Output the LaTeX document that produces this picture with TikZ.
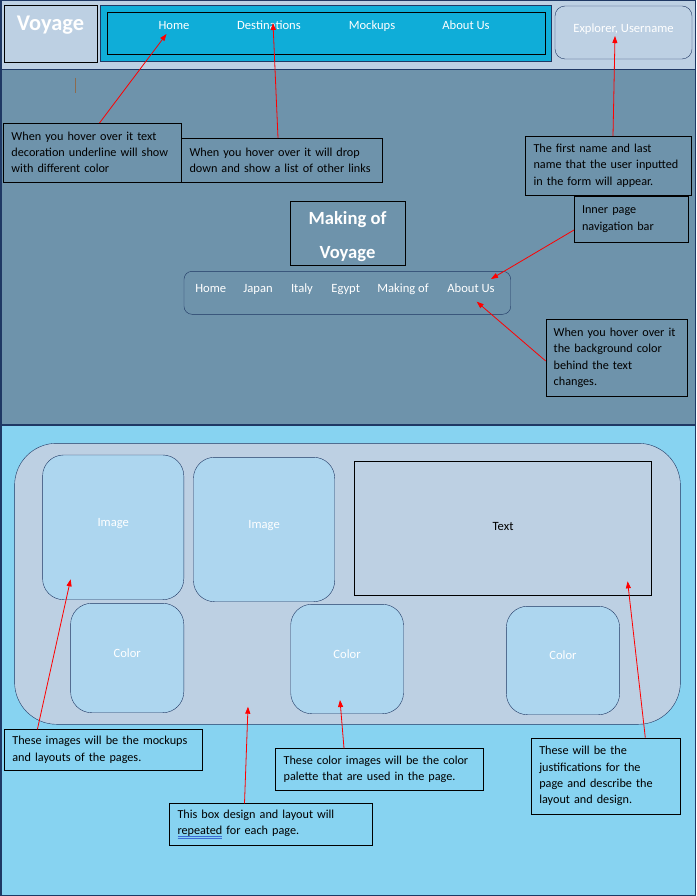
\documentclass[tikz,border=0pt]{standalone}
\usepackage{fontspec}
\setmainfont{Carlito}
\usetikzlibrary{arrows.meta}

\definecolor{headbg}{HTML}{BDD0E3}
\definecolor{midbg}{HTML}{6E93AB}
\definecolor{lowbg}{HTML}{87D3F1}
\definecolor{navcyan}{HTML}{0FADD8}
\definecolor{tilebg}{HTML}{ADD6EF}
\definecolor{navy}{HTML}{1F3864}
\definecolor{spell}{HTML}{3B6BD6}
\definecolor{caret}{HTML}{8C6B4F}

\newcommand{\spellmark}[1]{\leavevmode\setbox0\hbox{#1}\rlap{\color{spell}\rule[-1.5pt]{\wd0}{0.5pt}}\rlap{\color{spell}\rule[-3.5pt]{\wd0}{0.5pt}}#1}

\tikzset{
  every node/.style={outer sep=0pt},
  note/.style={draw=black, anchor=north west, inner xsep=8pt, align=left, font=\fontsize{12.2}{16.3}\selectfont},
  menu/.style={text=white, inner sep=0pt, text height=9pt, text depth=3pt, font=\fontsize{12.6}{15}\selectfont},
  tile/.style={draw=navy, fill=tilebg, anchor=north west, rounded corners=21pt, text=white, text depth=10pt, font=\fontsize{12.6}{15}\selectfont},
  hint/.style={red, line width=0.8pt, -{Triangle[length=7pt,width=5pt]}},
}

\begin{document}
\begin{tikzpicture}[x=1pt,y=-1pt]
        \useasboundingbox (0,0) rectangle (696,896);

        % bands of the page
        \fill[headbg] (0,0) rectangle (696,69);
        \fill[midbg] (0,69) rectangle (696,424);
        \fill[lowbg] (0,424) rectangle (696,896);
        \draw[navy, line width=1.2pt] (0,69.3) -- (696,69.3);
        \draw[navy, line width=2.2pt] (0,424.8) -- (696,424.8);
        \draw[navy, line width=1.5pt] (0.75,0.75) rectangle (695.25,895.25);

        % header
        \node[draw=black, fill=headbg, anchor=north west, minimum width=93, minimum height=57, text=white, text depth=20pt, font=\bfseries\fontsize{22.4}{26}\selectfont] (logo) at (4,5) {Voyage};
        \node[draw=navy, fill=navcyan, anchor=north west, minimum width=451, minimum height=56] (navBar) at (100,5) {};
        \node[draw=black, anchor=north west, minimum width=438, minimum height=42] (navFrame) at (107,12) {};
        \node[menu] (navHome) at (174,26.5) {Home};
        \node[menu] (navDest) at (269,26.5) {Destinations};
        \node[menu] (navMock) at (372,26.5) {Mockups};
        \node[menu] (navAbout) at (466,26.5) {About Us};
        \node[draw=navy, fill=headbg, anchor=north west, rounded corners=10pt, minimum width=137, minimum height=53, text=white, text depth=8pt, font=\fontsize{12.6}{15}\selectfont] (userBox) at (555,6) {Explorer, Username};

        \draw[caret, line width=0.6pt] (75.3,77.7) -- (75.3,92.7);

        % notes on the header
        \node[note, text width=162, minimum height=59] (hoverHome) at (3.5,123) {When you hover over it text\\decoration underline will show\\with different color};
        \node[note, text width=185, minimum height=44] (hoverDest) at (181.5,138) {When you hover over it will drop\\down and show a list of other links};
        \node[note, text width=150, minimum height=59] (nameNote) at (525.5,136) {The first name and last\\name that the user inputted\\in the form will appear.};

        \coordinate (tipHome) at (166.5,34);
        \coordinate (tipDest) at (273,23);
        \coordinate (tipUser) at (615,36);
        \draw[hint] ([xshift=96pt]hoverHome.north west) -- (tipHome);
        \draw[hint] ([xshift=96.5pt]hoverDest.north west) -- (tipDest);
        \draw[hint] ([xshift=87.5pt]nameNote.north west) -- (tipUser);

        % inner page title and bar
        \node[draw=black, anchor=north west, minimum width=114.4, minimum height=64, align=center, text=white, font=\bfseries\fontsize{18.6}{34}\selectfont] (titleBox) at (290.3,201.3) {\rule{0pt}{20pt}Making of\\Voyage};
        \node[draw=navy, anchor=north west, rounded corners=8pt, minimum width=326.7, minimum height=43] (innerBar) at (184,271.3) {};
        \node[menu] (barHome) at (210.7,289) {Home};
        \node[menu] (barJapan) at (258,289) {Japan};
        \node[menu] (barItaly) at (302,289) {Italy};
        \node[menu] (barEgypt) at (345.7,289) {Egypt};
        \node[menu] (barMaking) at (403,289) {Making of};
        \node[menu] (barAbout) at (471,289) {About Us};

        \node[note, text width=98, minimum height=46] (innerNote) at (574,196) {Inner page\\navigation bar};
        \node[note, text width=125.6, minimum height=77] (bgNote) at (545.7,319.3) {When you hover over it\\the background color\\behind the text\\changes.};

        \coordinate (tipBar) at (491,279);
        \coordinate (tipAbout) at (476.7,301.7);
        \draw[hint] ([yshift=-34pt]innerNote.north west) -- (tipBar);
        \draw[hint] ([yshift=-41.7pt]bgNote.north west) -- (tipAbout);

        % page layout box
        \node[draw=navy, fill=headbg, anchor=north west, rounded corners=42pt, minimum width=665.8, minimum height=281] (pageBox) at (14.6,443.3) {};
        \node[tile, minimum width=141.2, minimum height=144.7] (imageA) at (42.6,455) {Image};
        \node[tile, minimum width=141.2, minimum height=144.4] (imageB) at (193.5,457.3) {Image};
        \node[draw=black, fill=headbg, anchor=north west, minimum width=297, minimum height=134, text depth=4pt, font=\fontsize{12.6}{15}\selectfont] (textBox) at (354.6,461.3) {Text};
        \node[tile, minimum width=113.2, minimum height=109.4] (colorA) at (70.6,603.3) {Color};
        \node[tile, minimum width=112.8, minimum height=109.4] (colorB) at (290.7,604.3) {Color};
        \node[tile, minimum width=113.2, minimum height=108.4] (colorC) at (506.4,606.3) {Color};

        % notes on the layout
        \node[note, text width=182, minimum height=41] (imgNote) at (4.4,729.3) {These images will be the mockups\\and layouts of the pages.};
        \node[note, text width=192, minimum height=42] (colNote) at (275.6,748.3) {These color images will be the color\\palette that are used in the page.};
        \node[note, text width=133, minimum height=76.6] (justNote) at (531.3,737.7) {These will be the\\justifications for the\\page and describe the\\layout and design.};
        \node[note, text width=187, minimum height=41.4] (boxNote) at (169.5,803.3) {This box design and layout will\\\spellmark{repeated} for each page.};

        \coordinate (tipImage) at (70.6,579.3);
        \coordinate (tipPage) at (248,706.7);
        \coordinate (tipColor) at (340,700);
        \coordinate (tipText) at (627.6,581.3);
        \draw[hint] ([xshift=33pt]imgNote.north west) -- (tipImage);
        \draw[hint] ([xshift=75pt]boxNote.north west) -- (tipPage);
        \draw[hint] ([xshift=68.4pt]colNote.north west) -- (tipColor);
        \draw[hint] ([xshift=114pt]justNote.north west) -- (tipText);
    \end{tikzpicture}
\end{document}
